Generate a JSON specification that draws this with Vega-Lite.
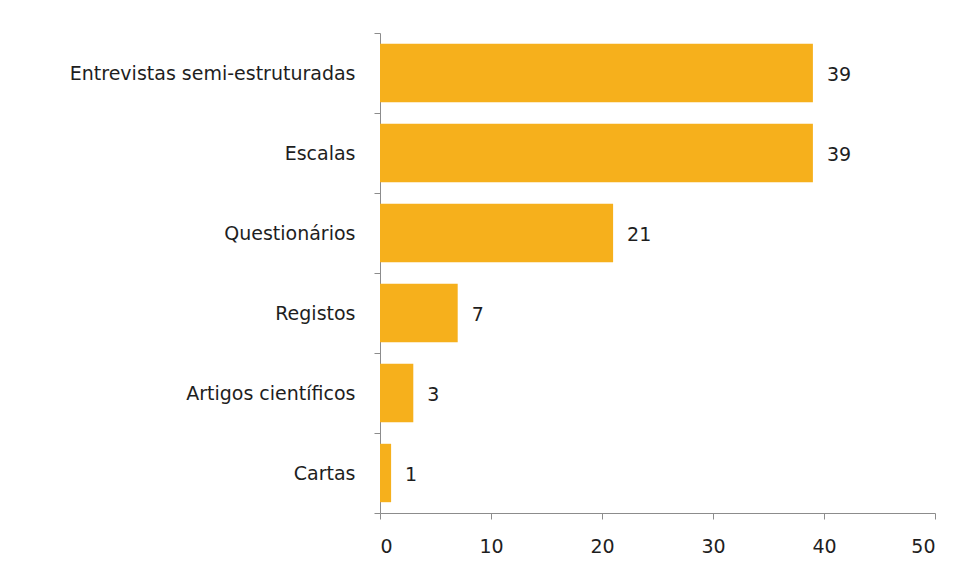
{
  "$schema": "https://vega.github.io/schema/vega-lite/v6.json",
  "autosize": "none",
  "width": 555,
  "height": 480,
  "padding": {"left": 380, "top": 33, "right": 35, "bottom": 64},
  "background": "white",
  "data": {"values": [
    {"categoria": "Entrevistas semi-estruturadas", "n": 39},
    {"categoria": "Escalas", "n": 39},
    {"categoria": "Questionários", "n": 21},
    {"categoria": "Registos", "n": 7},
    {"categoria": "Artigos científicos", "n": 3},
    {"categoria": "Cartas", "n": 1}
  ]},
  "encoding": {
    "y": {"field": "categoria", "type": "nominal", "sort": null,
      "scale": {"paddingInner": 0, "paddingOuter": 0},
      "axis": {"title": null, "tickBand": "extent", "tickSize": 6, "labelPadding": 19,
        "domainColor": "#8c8c8c", "tickColor": "#8c8c8c", "labelFont": "DejaVu Sans",
        "labelFontSize": 19, "labelColor": "#1e1e1e", "labelLimit": 400}},
    "x": {"field": "n", "type": "quantitative",
      "scale": {"domain": [0, 50]},
      "axis": {"title": null, "values": [0, 10, 20, 30, 40, 50], "grid": false, "tickSize": 6,
        "labelPadding": 18, "domainColor": "#8c8c8c", "tickColor": "#8c8c8c",
        "labelFont": "DejaVu Sans", "labelFontSize": 19, "labelColor": "#1e1e1e"}}
  },
  "layer": [
    {"mark": {"type": "bar", "color": "#F6B01C", "height": {"band": 0.73}}},
    {"mark": {"type": "text", "align": "left", "dx": 14, "dy": 2, "font": "DejaVu Sans", "fontSize": 19, "color": "#1e1e1e"},
     "encoding": {"text": {"field": "n", "type": "quantitative"}}}
  ],
  "config": {"view": {"stroke": null}}
}
